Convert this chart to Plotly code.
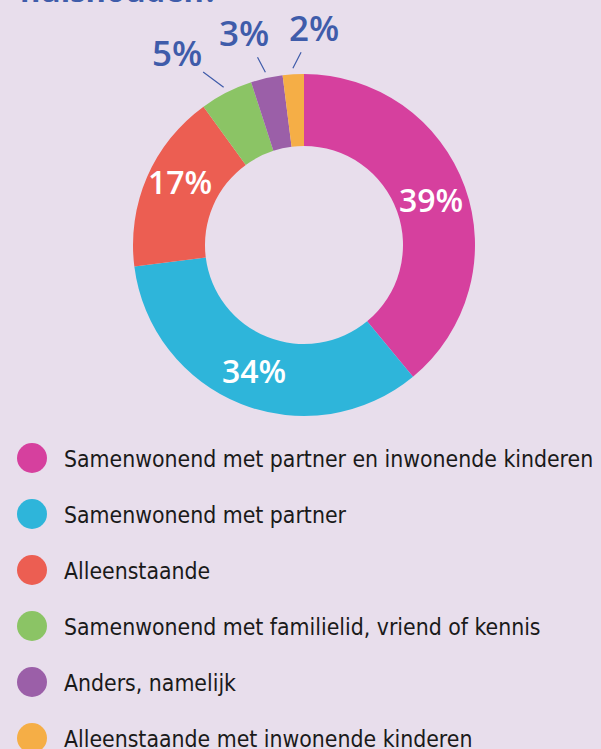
import math
import plotly.graph_objects as go

# Household composition shares (%)
categories = [
    "Samenwonend met partner en inwonende kinderen",
    "Samenwonend met partner",
    "Alleenstaande",
    "Samenwonend met familielid, vriend of kennis",
    "Anders, namelijk",
    "Alleenstaande met inwonende kinderen",
]
shares = [39, 34, 17, 5, 3, 2]
colors = ["#D6409E", "#2EB5DA", "#EC5E52", "#8BC465", "#9B5FA8", "#F5AE46"]

W, H = 601, 749
BG = "#E8DEEC"
LABEL_BLUE = "#3F5CAA"

# donut geometry (pixels)
cx, cy, R = 304, 245, 171
hole = 0.579
r_in = R * hole

def px(x):
    return x / W

def py(y):
    return 1 - y / H

fig = go.Figure()

fig.add_trace(go.Pie(
    labels=categories,
    values=shares,
    sort=False,
    direction="clockwise",
    rotation=0,
    hole=hole,
    marker=dict(colors=colors, line=dict(width=0)),
    textinfo="none",
    showlegend=False,
    hoverinfo="label+value",
    domain=dict(x=[px(cx - R), px(cx + R)], y=[py(cy + R), py(cy - R)]),
))

# Percent labels: big slices inside the ring, small slices as callouts
label_offsets = {3: (-47, -35), 4: (-21, -40), 5: (21, -41)}
inside_shift = {2: 10}
total = sum(shares)
start = 0.0
annotations = []
for i, v in enumerate(shares):
    span = 360.0 * v / total
    mid = math.radians(start + span / 2)
    start += span
    if i in label_offsets:
        rt = R + 6
        tx = cx + rt * math.sin(mid)
        ty = cy - rt * math.cos(mid)
        ax, ay = label_offsets[i]
        annotations.append(dict(
            x=px(tx), y=py(ty), xref="paper", yref="paper",
            text=f"{v}%", showarrow=True, arrowhead=0, arrowwidth=1.2,
            arrowcolor=LABEL_BLUE, ax=ax, ay=ay, standoff=0,
            font=dict(family="Open Sans", size=35, color=LABEL_BLUE, weight=600),
        ))
    else:
        rm = (R + r_in) / 2
        tx = cx + rm * math.sin(mid)
        ty = cy - rm * math.cos(mid)
        annotations.append(dict(
            x=px(tx), y=py(ty), xref="paper", yref="paper",
            xanchor="center", yanchor="middle", showarrow=False,
            yshift=inside_shift.get(i, 0),
            text=f"{v}%",
            font=dict(family="Open Sans", size=32, color="white", weight=600),
        ))

# Title (runs above the visible area)
annotations.append(dict(
    x=px(18), y=py(13), xref="paper", yref="paper",
    xanchor="left", yanchor="bottom", showarrow=False,
    text="huishouden?",
    font=dict(family="Open Sans", size=31, color=LABEL_BLUE, weight=700),
))

# Legend: round swatches with category names
shapes = []
row0, row_step, r_dot = 458, 56, 15
for i, (name, col) in enumerate(zip(categories, colors)):
    yc = row0 + i * row_step
    shapes.append(dict(
        type="circle", xref="paper", yref="paper",
        x0=px(32 - r_dot), x1=px(32 + r_dot),
        y0=py(yc + r_dot), y1=py(yc - r_dot),
        fillcolor=col, line=dict(width=0),
    ))
    annotations.append(dict(
        x=px(62), y=py(yc + 1), xref="paper", yref="paper",
        xanchor="left", yanchor="middle", showarrow=False,
        text=name,
        font=dict(family="DejaVu Sans Condensed, Liberation Sans Narrow, sans-serif",
                  size=22.8, color="#1A1A1A"),
    ))

fig.update_layout(
    width=W, height=H,
    margin=dict(l=0, r=0, t=0, b=0),
    paper_bgcolor=BG, plot_bgcolor=BG,
    shapes=shapes, annotations=annotations,
)

fig.write_html("out.html")
